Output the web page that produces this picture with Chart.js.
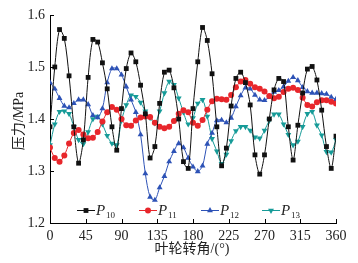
<!DOCTYPE html>
<html>
<head>
<meta charset="utf-8">
<script src="https://cdn.jsdelivr.net/npm/chart.js@4/dist/chart.umd.min.js"></script>
<style>
  body { margin: 0; background: #fff; }
  #myChart { display: block; }
</style>
</head>
<body>
<canvas id="myChart" width="358" height="263"></canvas>
<script>
// ----------------------------------------------------------
// data (impeller angle in degrees, pressure in MPa)
const angles = [0, 6, 12, 18, 24, 30, 36, 42, 48, 54, 60, 66, 72, 78, 84, 90,
  96, 102, 108, 114, 120, 126, 132, 138, 144, 150, 156, 162, 168, 174, 180,
  186, 192, 198, 204, 210, 216, 222, 228, 234, 240, 246, 252, 258, 264, 270,
  276, 282, 288, 294, 300, 306, 312, 318, 324, 330, 336, 342, 348, 354, 360];

const p10 = [1.385, 1.50, 1.572, 1.555, 1.483, 1.385, 1.315, 1.36, 1.48, 1.553,
  1.548, 1.508, 1.458, 1.385, 1.34, 1.42, 1.497, 1.527, 1.51, 1.465, 1.41,
  1.325, 1.347, 1.43, 1.49, 1.494, 1.46, 1.40, 1.318, 1.305, 1.42, 1.51,
  1.576, 1.551, 1.487, 1.385, 1.31, 1.344, 1.425, 1.478, 1.49, 1.47, 1.427,
  1.331, 1.294, 1.331, 1.40, 1.456, 1.478, 1.472, 1.385, 1.321, 1.388, 1.45,
  1.496, 1.501, 1.475, 1.417, 1.347, 1.305, 1.367];

const p11 = [1.345, 1.325, 1.318, 1.33, 1.353, 1.373, 1.379, 1.37, 1.363, 1.364,
  1.375, 1.395, 1.413, 1.423, 1.418, 1.40, 1.388, 1.387, 1.397, 1.403, 1.405,
  1.404, 1.393, 1.385, 1.382, 1.385, 1.396, 1.41, 1.417, 1.413, 1.393, 1.387,
  1.398, 1.418, 1.434, 1.439, 1.438, 1.437, 1.446, 1.461, 1.472, 1.475, 1.468,
  1.461, 1.458, 1.453, 1.444, 1.44, 1.443, 1.452, 1.458, 1.46, 1.456, 1.441,
  1.427, 1.424, 1.432, 1.436, 1.436, 1.433, 1.43];

const p12 = [1.47, 1.458, 1.44, 1.425, 1.422, 1.43, 1.437, 1.437, 1.428, 1.407,
  1.403, 1.42, 1.47, 1.497, 1.497, 1.485, 1.462, 1.437, 1.413, 1.37, 1.295,
  1.25, 1.244, 1.268, 1.29, 1.318, 1.338, 1.353, 1.345, 1.325, 1.308, 1.299,
  1.31, 1.352, 1.373, 1.397, 1.398, 1.393, 1.402, 1.424, 1.445, 1.46, 1.458,
  1.446, 1.437, 1.436, 1.442, 1.452, 1.455, 1.462, 1.473, 1.48, 1.474, 1.461,
  1.453, 1.45, 1.45, 1.449, 1.448, 1.442, 1.438];

const p13 = [1.35, 1.39, 1.414, 1.415, 1.41, 1.385, 1.36, 1.352, 1.375, 1.40,
  1.405, 1.39, 1.368, 1.353, 1.35, 1.397, 1.427, 1.446, 1.443, 1.432, 1.415,
  1.402, 1.392, 1.415, 1.45, 1.472, 1.466, 1.44, 1.413, 1.39, 1.402, 1.43,
  1.437, 1.405, 1.362, 1.338, 1.314, 1.332, 1.358, 1.377, 1.385, 1.385, 1.378,
  1.365, 1.363, 1.378, 1.397, 1.409, 1.409, 1.39, 1.37, 1.35, 1.357, 1.385,
  1.41, 1.414, 1.388, 1.369, 1.337, 1.336, 1.36];

const xTicks = [0, 45, 90, 135, 180, 225, 270, 315, 360];
const yTicks = [1.2, 1.3, 1.4, 1.5, 1.6];
const seriesNames = ["10", "11", "12", "13"];
const xTitle = "叶轮转角/(°)";
const yTitle = "压力/MPa";

// ----------------------------------------------------------
const serif = "'Liberation Serif', 'Times New Roman', serif";
const cjk = "'Liberation Serif', 'Noto Sans CJK SC', serif";

const styles = [
  { color: "#111111", pointStyle: "rect", radius: 3.4, rotation: 0 },
  { color: "#e8262b", pointStyle: "circle", radius: 3, rotation: 0 },
  { color: "#2d52b6", pointStyle: "triangle", radius: 3.4, rotation: 0 },
  { color: "#169b98", pointStyle: "triangle", radius: 3.4, rotation: 180 },
];

function toPoints(values) {
  return values.map((v, i) => ({ x: angles[i], y: v }));
}

const datasets = [p10, p11, p12, p13].map((values, i) => ({
  label: "P" + seriesNames[i],
  data: toPoints(values),
  borderColor: styles[i].color,
  backgroundColor: styles[i].color,
  borderWidth: 1,
  pointStyle: styles[i].pointStyle,
  pointRotation: styles[i].rotation,
  pointRadius: styles[i].radius,
  pointBorderWidth: 0,
  tension: 0.3,
}));

// ----------------------------------------------------------
// inner ticks, axis titles and the legend with subscripts
const extrasPlugin = {
  id: "extras",
  afterDraw(chart) {
    const ctx = chart.ctx;
    const xs = chart.scales.x;
    const ys = chart.scales.y;
    const area = chart.chartArea;
    ctx.save();
    ctx.strokeStyle = "#000";
    ctx.lineWidth = 1;
    ctx.beginPath();
    xTicks.forEach((t) => {
      const px = Math.round(xs.getPixelForValue(t)) + 0.5;
      ctx.moveTo(px, area.bottom);
      ctx.lineTo(px, area.bottom - 4);
    });
    yTicks.forEach((t) => {
      const py = Math.round(ys.getPixelForValue(t)) + 0.5;
      ctx.moveTo(area.left, py);
      ctx.lineTo(area.left + 4, py);
    });
    ctx.stroke();

    // axis titles
    ctx.fillStyle = "#222";
    ctx.textAlign = "center";
    ctx.textBaseline = "middle";
    ctx.font = "14px " + cjk;
    ctx.fillText(xTitle, 192, 249);
    ctx.translate(19, 121);
    ctx.rotate(-Math.PI / 2);
    ctx.fillText(yTitle, 0, 0);
    ctx.restore();

    // legend
    const legendX = [77, 139, 201, 262];
    const legendY = 210;
    ctx.save();
    datasets.forEach((ds, i) => {
      const x0 = legendX[i];
      ctx.strokeStyle = styles[i].color;
      ctx.lineWidth = 1;
      ctx.beginPath();
      ctx.moveTo(x0, legendY + 0.5);
      ctx.lineTo(x0 + 18, legendY + 0.5);
      ctx.stroke();
      ctx.fillStyle = styles[i].color;
      Chart.helpers.drawPoint(ctx, {
        pointStyle: styles[i].pointStyle,
        rotation: styles[i].rotation,
        radius: styles[i].radius,
        borderWidth: 0,
      }, x0 + 9, legendY + 0.5);
      ctx.fillStyle = "#222";
      ctx.textAlign = "left";
      ctx.textBaseline = "alphabetic";
      ctx.font = "italic 15px " + serif;
      ctx.fillText("P", x0 + 19, legendY + 5);
      ctx.font = "9px " + serif;
      ctx.fillText(seriesNames[i], x0 + 29, legendY + 8);
    });
    ctx.restore();
  },
};

// ----------------------------------------------------------
const ctx = document.getElementById("myChart").getContext("2d");
const theChart = new Chart(ctx, {
  type: "line",
  data: { datasets: datasets },
  options: {
    responsive: false,
    animation: false,
    devicePixelRatio: 1,
    layout: { padding: { left: 0, right: 22, top: 15, bottom: 0 } },
    plugins: { legend: { display: false }, tooltip: { enabled: false } },
    scales: {
      x: {
        type: "linear",
        min: 0,
        max: 360,
        afterFit(scale) { scale.height = 40; },
        afterBuildTicks(scale) { scale.ticks = xTicks.map((v) => ({ value: v })); },
        grid: { display: true, drawOnChartArea: false, drawTicks: false },
        border: { display: true, color: "#000", width: 1 },
        ticks: { padding: 5, color: "#222", font: { family: serif, size: 14 }, maxRotation: 0 },
      },
      y: {
        min: 1.2,
        max: 1.6,
        afterFit(scale) { scale.width = 50; },
        afterBuildTicks(scale) { scale.ticks = yTicks.map((v) => ({ value: v })); },
        grid: { display: true, drawOnChartArea: false, drawTicks: false },
        border: { display: true, color: "#000", width: 1 },
        ticks: {
          padding: 5,
          color: "#222",
          font: { family: serif, size: 14 },
          callback: (v) => v.toFixed(1),
        },
      },
    },
  },
  plugins: [extrasPlugin],
});
</script>
</body>
</html>
